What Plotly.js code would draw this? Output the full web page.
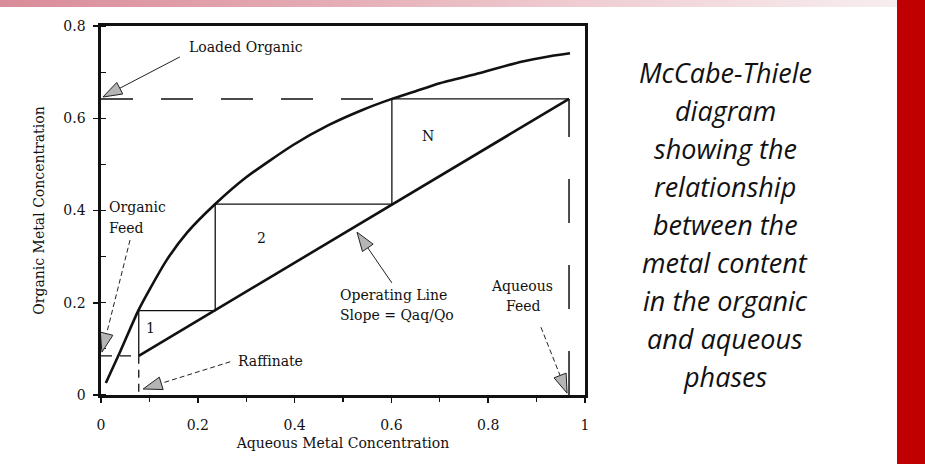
<!DOCTYPE html>
<html>
<head>
<meta charset="utf-8">
<script src="https://cdn.plot.ly/plotly-3.0.1.min.js"></script>
<style>
  html,body{margin:0;padding:0;background:#fff;}
  #wrap{position:relative;width:925px;height:464px;overflow:hidden;background:#fff;}
  #band{position:absolute;left:0;top:0;width:897px;height:7px;
        background:linear-gradient(to right,#d98c99 0%,#e4aab3 35%,#efcdd2 65%,#f7eef0 100%);}
  #redbar{position:absolute;left:897px;top:0;width:28px;height:464px;background:#c00000;}
  #chart{position:absolute;left:0;top:0;width:925px;height:464px;}
</style>
</head>
<body>
<div id="wrap">
  <div id="band"></div>
  <div id="redbar"></div>
  <div id="chart"></div>
</div>
<script>
// ---------- data ----------
const eqX = [0.010, 0.040, 0.077, 0.100, 0.136, 0.177, 0.236, 0.300, 0.397, 0.470, 0.540, 0.601, 0.645, 0.700, 0.783, 0.866, 0.930, 0.969];
const eqY = [0.026, 0.095, 0.183, 0.228, 0.293, 0.351, 0.414, 0.472, 0.542, 0.585, 0.618, 0.642, 0.657, 0.676, 0.698, 0.722, 0.735, 0.741];

const opX = [0.078, 0.967];
const opY = [0.085, 0.642];

const stepX = [0.078, 0.078, 0.236, 0.236, 0.601, 0.601, 0.967];
const stepY = [0.085, 0.183, 0.183, 0.414, 0.414, 0.642, 0.642];

const loadedX = [0, 0.601];
const loadedY = [0.642, 0.642];
const orgFeedX = [0, 0.078];
const orgFeedY = [0.085, 0.085];
const raffX = [0.078, 0.078];
const raffY = [0.085, 0];
const aqFeedX = [0.967, 0.967];
const aqFeedY = [0, 0.642];

const xTicks = [0, 0.2, 0.4, 0.6, 0.8, 1];
const yTicks = [0, 0.2, 0.4, 0.6, 0.8];

// labels inside chart
const labelText = ["Loaded Organic", "Organic", "Feed", "Raffinate", "Operating Line", "Slope = Qaq/Qo", "Aqueous", "Feed", "1", "2", "N"];
const labelX    = [0.300, 0.012, 0.012, 0.351, 0.605, 0.612, 0.870, 0.872, 0.103, 0.331, 0.676];
const labelY    = [0.754, 0.408, 0.362, 0.074, 0.217, 0.173, 0.236, 0.193, 0.145, 0.340, 0.562];
const labelAnchor = ["center", "left", "left", "center", "center", "center", "center", "center", "center", "center", "center"];

// arrows: tip and tail (data coords)
const arrowTipX  = [0.004, 0.002, 0.087, 0.529, 0.963];
const arrowTipY  = [0.646, 0.093, 0.013, 0.353, 0.004];
const arrowTailX = [0.163, 0.060, 0.267, 0.601, 0.909];
const arrowTailY = [0.733, 0.336, 0.072, 0.243, 0.147];
const arrowDash  = ["solid", "5px,3px", "5px,3px", "solid", "5px,3px"];

const sideText = ["McCabe-Thiele", "diagram", "showing the", "relationship", "between the", "metal content", "in the organic", "and aqueous", "phases"];

// ---------- layout geometry ----------
const W = 925, H = 464, ML = 101, MR = 340, MT = 26, MB = 69;
const xRange = [0, 1], yRange = [0, 0.8];
const pxX = (W - ML - MR) / (xRange[1] - xRange[0]);
const pxY = (H - MT - MB) / (yRange[1] - yRange[0]);

const serif = "DejaVu Serif, Liberation Serif, serif";
const black = "#111";

const traces = [
  {x: eqX, y: eqY, mode: "lines", line: {color: black, width: 2.6, shape: "spline", smoothing: 0.6}, hoverinfo: "skip"},
  {x: opX, y: opY, mode: "lines", line: {color: black, width: 2.6}, hoverinfo: "skip"},
  {x: stepX, y: stepY, mode: "lines", line: {color: black, width: 1.3}, hoverinfo: "skip"},
  {x: loadedX, y: loadedY, mode: "lines", line: {color: black, width: 1.5, dash: "32px,28px"}, hoverinfo: "skip"},
  {x: orgFeedX, y: orgFeedY, mode: "lines", line: {color: black, width: 1.3, dash: "11px,8px"}, hoverinfo: "skip"},
  {x: raffX, y: raffY, mode: "lines", line: {color: black, width: 1.3, dash: "8px,6px"}, hoverinfo: "skip"},
  {x: aqFeedX, y: aqFeedY, mode: "lines", line: {color: black, width: 1.5, dash: "44px,42px"}, hoverinfo: "skip"}
];

// arrow shapes built from the arrow arrays
const shapes = [];
for (let i = 0; i < arrowTipX.length; i++) {
  const tx = arrowTipX[i], ty = arrowTipY[i], sx = arrowTailX[i], sy = arrowTailY[i];
  const dxp = (tx - sx) * pxX, dyp = (ty - sy) * pxY;
  const L = Math.hypot(dxp, dyp);
  const ux = dxp / L, uy = dyp / L;
  const hl = 19, hw = 6.5;
  const bx = tx - ux * hl / pxX, by = ty - uy * hl / pxY;
  const p1x = bx + (-uy) * hw / pxX, p1y = by + (ux) * hw / pxY;
  const p2x = bx - (-uy) * hw / pxX, p2y = by - (ux) * hw / pxY;
  shapes.push({type: "line", xref: "x", yref: "y", x0: sx, y0: sy, x1: bx, y1: by,
               line: {color: "#222", width: 1, dash: arrowDash[i]}, layer: "above"});
  shapes.push({type: "path", xref: "x", yref: "y",
               path: `M${tx},${ty} L${p1x},${p1y} L${p2x},${p2y} Z`,
               fillcolor: "#b5b5b5", line: {color: "#222", width: 1}, layer: "above"});
}

const annotations = [];
for (let i = 0; i < labelText.length; i++) {
  annotations.push({x: labelX[i], y: labelY[i], xref: "x", yref: "y", text: labelText[i],
    showarrow: false, xanchor: labelAnchor[i], yanchor: "middle", align: labelAnchor[i],
    font: {family: serif, size: 14, color: black}});
}
// side caption lines
const sideCenterPx = 725, firstLinePx = 72, linePitch = 38;
for (let i = 0; i < sideText.length; i++) {
  const cy = firstLinePx + i * linePitch;
  annotations.push({xref: "paper", yref: "paper",
    x: (sideCenterPx - ML) / (W - ML - MR), y: (H - MB - cy) / (H - MT - MB),
    text: sideText[i], showarrow: false, xanchor: "center", yanchor: "middle",
    font: {family: "Open Sans, Lato, sans-serif", size: 27, style: "italic", color: black}});
}

const layout = {
  width: W, height: H,
  margin: {l: ML, r: MR, t: MT, b: MB, pad: 0},
  paper_bgcolor: "rgba(0,0,0,0)",
  plot_bgcolor: "#fff",
  showlegend: false,
  xaxis: {
    range: xRange, tickvals: xTicks, ticktext: xTicks.map(String),
    showgrid: false, zeroline: false,
    showline: true, linecolor: black, linewidth: 2.6, mirror: true,
    ticks: "outside", ticklen: 5, tickwidth: 1.5, tickcolor: black,
    minor: {dtick: 0.1, tick0: 0, ticks: "outside", ticklen: 4, tickwidth: 1.2, tickcolor: black, showgrid: false},
    tickfont: {family: serif, size: 14, color: black},
    ticklabelstandoff: 11,
    title: {text: "Aqueous Metal Concentration", font: {family: serif, size: 14, color: black}, standoff: 6},
    automargin: false, fixedrange: true
  },
  yaxis: {
    range: yRange, tickvals: yTicks, ticktext: yTicks.map(String),
    showgrid: false, zeroline: false,
    showline: true, linecolor: black, linewidth: 2.6, mirror: true,
    ticks: "outside", ticklen: 5, tickwidth: 1.5, tickcolor: black,
    minor: {dtick: 0.1, tick0: 0, ticks: "inside", ticklen: 5, tickwidth: 1.2, tickcolor: black, showgrid: false},
    tickfont: {family: serif, size: 14, color: black},
    ticklabelstandoff: 5,
    title: {text: "Organic Metal Concentration", font: {family: serif, size: 14, color: black}, standoff: 16},
    automargin: false, fixedrange: true
  },
  shapes: shapes,
  annotations: annotations
};

Plotly.newPlot("chart", traces, layout, {staticPlot: true, displayModeBar: false});
</script>
</body>
</html>
